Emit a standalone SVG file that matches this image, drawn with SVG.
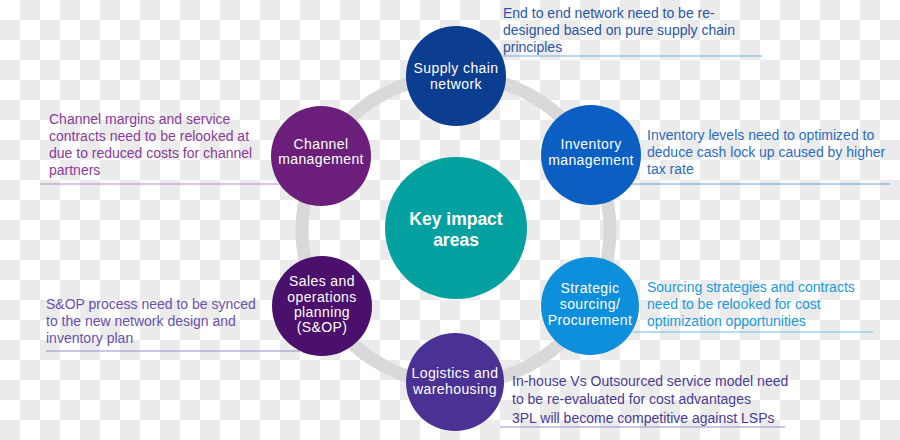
<svg xmlns="http://www.w3.org/2000/svg" width="900" height="440" viewBox="0 0 900 440">
<defs>
<pattern id="chk" x="0" y="0" width="40" height="40" patternUnits="userSpaceOnUse">
<rect x="0" y="0" width="40" height="40" fill="#ffffff"/>
<rect x="20" y="0" width="20" height="20" fill="#ebebeb"/>
<rect x="0" y="20" width="20" height="20" fill="#ebebeb"/>
</pattern>
<style>
.nt{font-family:"Liberation Sans",Arial,sans-serif;font-size:14px;letter-spacing:0.4px;fill:#ffffff;text-anchor:middle}
.ct{font-family:"Liberation Sans",Arial,sans-serif;font-size:17.5px;font-weight:bold;fill:#ffffff;text-anchor:middle}
.dt{font-family:"Liberation Sans",Arial,sans-serif;font-size:14px}
.ul{stroke-width:1.2;fill:none}
</style>
</defs>
<rect x="0" y="0" width="900" height="440" fill="url(#chk)"/>
<g id="connectors">
<circle cx="456" cy="230" r="154" fill="none" stroke="#d9d9d9" stroke-width="13"/>
<line class="ul" x1="503" y1="56" x2="762" y2="56" stroke="#7fa8dc"/>
<line class="ul" x1="40" y1="184" x2="283" y2="184" stroke="#b98bc6"/>
<line class="ul" x1="628" y1="184" x2="890" y2="184" stroke="#6f9ed8"/>
<line class="ul" x1="46" y1="351" x2="300" y2="351" stroke="#9b8ccc"/>
<line class="ul" x1="633" y1="332" x2="873" y2="332" stroke="#6cbfe8"/>
<line class="ul" x1="500" y1="427" x2="785" y2="427" stroke="#9a90c8"/>
</g>
<g id="center">
<circle cx="456" cy="228" r="71" fill="#05a0a0"/>
<text class="ct" x="456" y="225">Key impact</text>
<text class="ct" x="456" y="246">areas</text>
</g>
<g id="supply-chain">
<circle cx="456" cy="76" r="50" fill="#0b3d91"/>
<text class="nt" x="456" y="73">Supply chain</text>
<text class="nt" x="456" y="89">network</text>
</g>
<g id="inventory">
<circle cx="591" cy="155" r="50" fill="#0b5ec2"/>
<text class="nt" x="591" y="149">Inventory</text>
<text class="nt" x="591" y="165">management</text>
</g>
<g id="strategic">
<circle cx="590" cy="306" r="49" fill="#0d8fdb"/>
<text class="nt" x="590" y="293">Strategic</text>
<text class="nt" x="590" y="309">sourcing/</text>
<text class="nt" x="590" y="325">Procurement</text>
</g>
<g id="logistics">
<circle cx="455" cy="382" r="49" fill="#4a3295"/>
<text class="nt" x="455" y="378">Logistics and</text>
<text class="nt" x="455" y="394">warehousing</text>
</g>
<g id="sop">
<circle cx="322" cy="306" r="50" fill="#4b0f6c"/>
<text class="nt" x="322" y="286">Sales and</text>
<text class="nt" x="322" y="302">operations</text>
<text class="nt" x="322" y="317">planning</text>
<text class="nt" x="322" y="332">(S&amp;OP)</text>
</g>
<g id="channel">
<circle cx="321" cy="156" r="50" fill="#6b1f7b"/>
<text class="nt" x="321" y="149">Channel</text>
<text class="nt" x="321" y="164">management</text>
</g>
<g id="desc-supply" class="dt" fill="#2a55a8">
<text x="503" y="18">End to end network need to be re-</text>
<text x="503" y="35">designed based on pure supply chain</text>
<text x="503" y="52">principles</text>
</g>
<g id="desc-channel" class="dt" fill="#8a3a9a">
<text x="49" y="124">Channel margins and service</text>
<text x="49" y="141">contracts need to be relooked at</text>
<text x="49" y="158">due to reduced costs for channel</text>
<text x="49" y="175">partners</text>
</g>
<g id="desc-inventory" class="dt" fill="#2a6cc4">
<text x="647" y="140">Inventory levels need to optimized to</text>
<text x="647" y="157">deduce cash lock up caused by higher</text>
<text x="647" y="174">tax rate</text>
</g>
<g id="desc-sop" class="dt" fill="#6a4fb0">
<text x="46" y="309">S&amp;OP process need to be synced</text>
<text x="46" y="326">to the new network design and</text>
<text x="46" y="343">inventory plan</text>
</g>
<g id="desc-strategic" class="dt" fill="#1a9ae0">
<text x="647" y="292">Sourcing strategies and contracts</text>
<text x="647" y="309">need to be relooked for cost</text>
<text x="647" y="326">optimization opportunities</text>
</g>
<g id="desc-logistics" class="dt" fill="#4a3a9a">
<text x="512" y="386">In-house Vs Outsourced service model need</text>
<text x="512" y="404">to be re-evaluated for cost advantages</text>
<text x="512" y="423">3PL will become competitive against LSPs</text>
</g>
</svg>
